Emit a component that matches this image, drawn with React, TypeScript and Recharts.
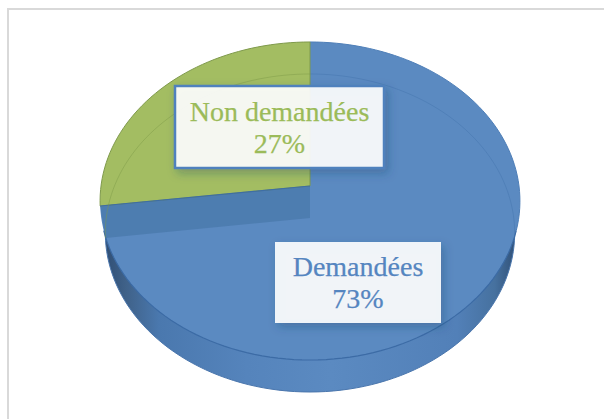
import React from 'react';
import { PieChart, Pie, Cell } from 'recharts';

const categories = ['Demandées', 'Non demandées'];
const percents = [73, 27];
const colors = ['#5b8ac1', '#a3bd62'];
const labelColors = ['#5585c0', '#9bbb59'];

const data = categories.map((name, i) => ({ name, value: percents[i] }));

// perspective of the tilted disc
const RX = 209;
const TILT = 0.0943;
const BACK = 157.6;
const APEX_Y = 186;
const CX = 310;
const DEPTH = 32;
const FLOOR_SCALE = 0.975; // underside of the disc looks a bit narrower

const project = (angle: number, dy = 0, scale = 1) => {
  const rad = (angle * Math.PI) / 180;
  const a = Math.cos(rad);
  const b = -Math.sin(rad);
  const k = 1 - TILT * b;
  return { x: CX + (RX * scale * a) / k, y: APEX_Y + dy + (BACK * b) / k };
};

const arcPath = (start: number, end: number, dy = 0, scale = 1) => {
  let d = '';
  const steps = Math.ceil(Math.abs(end - start) / 2);
  for (let i = 0; i <= steps; i++) {
    const p = project(start + ((end - start) * i) / steps, dy, scale);
    d += `${i === 0 ? 'M' : 'L'}${p.x.toFixed(2)},${p.y.toFixed(2)} `;
  }
  return d;
};

const floorArc = (start: number, end: number) => arcPath(start, end, DEPTH, FLOOR_SCALE);

const TiltedSector = (props: any) => {
  const { startAngle, endAngle, fill, index } = props;
  const face = `${arcPath(startAngle, endAngle)}L${CX},${APEX_Y} Z`;
  if (index === 0) {
    return (
      <g>
        <path d={`${floorArc(0, 360)}Z`} fill="url(#wall)" stroke="#4a76ad" strokeWidth={1} />
        <path d={face} fill={fill} />
        <path d={arcPath(-16, -164)} fill="none" stroke="#3c6ba5" strokeWidth={1.2} />
        <path d={arcPath(90, -16)} fill="none" stroke="#4f7fb8" strokeWidth={1} />
        <path d={floorArc(90, -8)} fill="none" stroke="#3d6da6" strokeOpacity={0.35} strokeWidth={1} />
      </g>
    );
  }
  const cut = project(startAngle);
  const floorCut = project(startAngle, DEPTH, FLOOR_SCALE);
  const band = `M${CX},${APEX_Y} L${cut.x},${cut.y} L${floorCut.x},${floorCut.y} L${CX},${APEX_Y + DEPTH} Z`;
  return (
    <g>
      <path d={face} fill={fill} stroke="#7f9a4c" strokeWidth={1} />
      <path d={`M${CX},${APEX_Y} L${cut.x},${cut.y}`} stroke="#3f6ea8" strokeWidth={1.2} />
      <path d={band} fill="#3f6f9f" fillOpacity={0.5} />
      <path d={floorArc(startAngle, endAngle)} fill="none" stroke="#7d9848" strokeOpacity={0.45} strokeWidth={1} />
    </g>
  );
};

const boxes = [
  { x: 275, y: 242, w: 166, h: 81, line1: 276, line2: 308, border: 'none' },
  { x: 175, y: 86, w: 209, h: 82, line1: 121, line2: 153, border: '#4f81bd' },
];

const renderLabel = (props: any) => {
  const { index, name, value } = props;
  const b = boxes[index];
  const mid = b.x + b.w / 2;
  const textStyle = {
    fontFamily: "'Liberation Serif', serif",
    fontSize: 28,
    fill: labelColors[index],
    stroke: labelColors[index],
    strokeWidth: 0.25,
  };
  return (
    <g key={name}>
      <rect
        x={b.x}
        y={b.y}
        width={b.w}
        height={b.h}
        fill="#ffffff"
        fillOpacity={0.9}
        stroke={b.border}
        strokeWidth={2.5}
        filter="url(#boxShadow)"
      />
      <text x={mid} y={b.line1} textAnchor="middle" style={textStyle}>
        {name}
      </text>
      <text x={mid} y={b.line2} textAnchor="middle" style={textStyle}>
        {value}%
      </text>
    </g>
  );
};

export default function App() {
  return (
    <div style={{ position: 'absolute', left: 0, top: 0, width: 604, height: 419, background: '#fff', overflow: 'hidden' }}>
      {/* the frame is cropped: only its top and left edges show */}
      <div
        style={{
          position: 'absolute',
          left: 7,
          top: 8,
          width: 620,
          height: 440,
          border: '2px solid #d9d9d9',
        }}
      />
      <div style={{ position: 'absolute', left: 0, top: 0 }}>
        <PieChart width={604} height={419} margin={{ top: 0, right: 0, bottom: 0, left: 0 }}>
          <defs>
            <linearGradient id="wall" gradientUnits="userSpaceOnUse" x1="100" y1="0" x2="520" y2="0">
              <stop offset="0%" stopColor="#2c4a70" />
              <stop offset="6%" stopColor="#3f6188" />
              <stop offset="14%" stopColor="#4a78ae" />
              <stop offset="35%" stopColor="#5584bc" />
              <stop offset="55%" stopColor="#5b8ac1" />
              <stop offset="85%" stopColor="#5280b8" />
              <stop offset="94%" stopColor="#46719f" />
              <stop offset="100%" stopColor="#2c4a70" />
            </linearGradient>
            <filter id="boxShadow" x="-15%" y="-20%" width="130%" height="145%">
              <feDropShadow dx={3} dy={4} stdDeviation={5} floodColor="#1f3f66" floodOpacity={0.35} />
            </filter>
          </defs>
          <Pie
            data={data}
            dataKey="value"
            nameKey="name"
            cx={310}
            cy={186}
            outerRadius={160}
            startAngle={90}
            endAngle={-270}
            stroke="none"
            shape={TiltedSector}
            label={renderLabel}
            labelLine={false}
            isAnimationActive={false}
          >
            {data.map((d, i) => (
              <Cell key={d.name} fill={colors[i]} />
            ))}
          </Pie>
        </PieChart>
      </div>
    </div>
  );
}
